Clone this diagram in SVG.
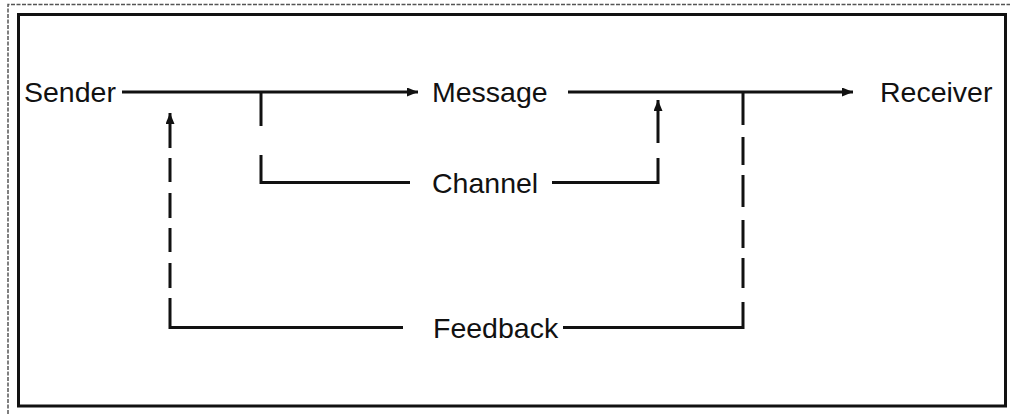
<svg xmlns="http://www.w3.org/2000/svg" width="1010" height="414" viewBox="0 0 1010 414">
  <style>
    .label { font-family: "Liberation Sans", Arial, sans-serif; font-size: 28.5px; fill: #111; }
    .wire { fill: none; stroke: #111; stroke-width: 3; stroke-linecap: butt; stroke-linejoin: miter; }
    .frame { fill: none; stroke: #111; stroke-width: 3; }
    .outer { fill: none; stroke: #555; stroke-width: 1.5; stroke-dasharray: 4 1.5; }
  </style>
  <defs>
    <marker id="head" viewBox="0 0 11 9" markerWidth="11" markerHeight="9" refX="11" refY="4.5" orient="auto" markerUnits="userSpaceOnUse">
      <path d="M0 0 L11 4.5 L0 9 Z" fill="#111"/>
    </marker>
  </defs>

  <rect width="1010" height="414" fill="#fff"/>

  <!-- outer hairline border and inner heavy frame -->
  <path class="outer" d="M8 414 V4.5 H1010"/>
  <rect class="frame" x="18.5" y="14.5" width="987" height="391.5"/>

  <g id="connectors">
    <!-- sender to message -->
    <path class="wire" d="M122 92 H418" marker-end="url(#head)"/>
    <!-- branch down to channel -->
    <path class="wire" d="M261 92 V126"/>
    <path class="wire" d="M261 155 V182.5 H410"/>
    <!-- channel up into message line -->
    <path class="wire" d="M552 182.5 H658 V158"/>
    <path class="wire" d="M658 143 V100" marker-end="url(#head)"/>
    <!-- message to receiver -->
    <path class="wire" d="M568 92 H853" marker-end="url(#head)"/>
    <!-- feedback loop, receiver side (dashed) -->
    <path class="wire" d="M743 92 V125 M743 137 V165 M743 175 V207 M743 220 V248 M743 258 V288 M743 302 V327.5 H563"/>
    <!-- feedback loop, sender side (dashed) -->
    <path class="wire" d="M403 327.5 H170 V298 M170 288 V263 M170 252 V228 M170 218 V193 M170 182 V158"/>
    <path class="wire" d="M170 148 V113" marker-end="url(#head)"/>
  </g>

  <g id="sender"><text class="label" x="24" y="102">Sender</text></g>
  <g id="message"><text class="label" x="432" y="102">Message</text></g>
  <g id="receiver"><text class="label" x="880" y="102">Receiver</text></g>
  <g id="channel"><text class="label" x="432" y="193">Channel</text></g>
  <g id="feedback"><text class="label" x="433" y="338">Feedback</text></g>
</svg>
